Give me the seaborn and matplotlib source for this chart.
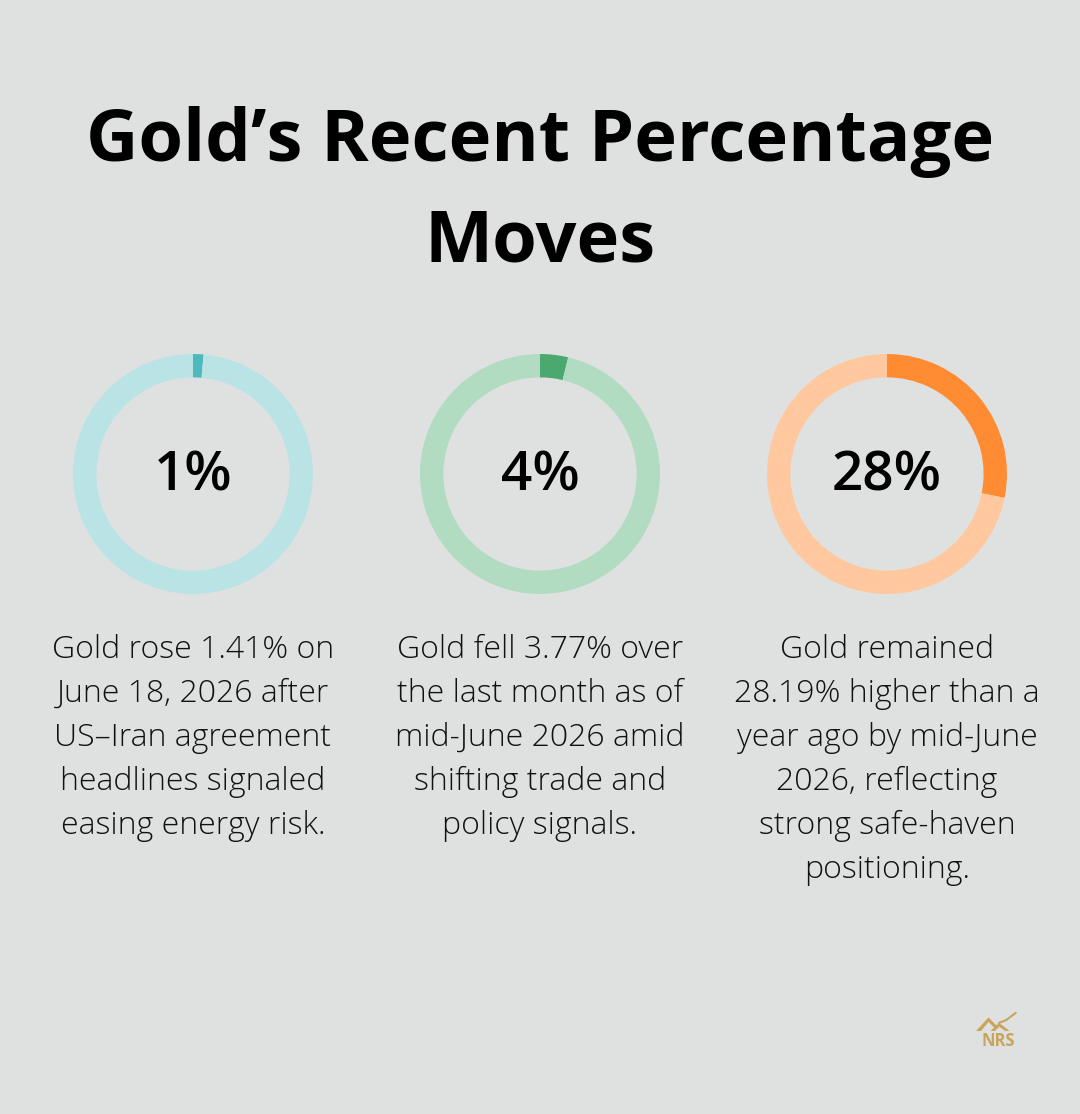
import matplotlib
matplotlib.use("Agg")
import matplotlib.pyplot as plt
import seaborn as sns
import numpy as np

# ---- data ----
labels = ["1%", "4%", "28%"]
values = [1.41, 3.77, 28.19]
captions = [
    "Gold rose 1.41% on\nJune 18, 2026 after\nUS\u2013Iran agreement\nheadlines signaled\neasing energy risk.",
    "Gold fell 3.77% over\nthe last month as of\nmid-June 2026 amid\nshifting trade and\npolicy signals.",
    "Gold remained\n28.19% higher than a\nyear ago by mid-June\n2026, reflecting\nstrong safe-haven\npositioning.",
]
dark_colors = ["#4DB9BC", "#4BA86F", "#FF8C33"]
light_colors = ["#BAE3E5", "#B1DCC2", "#FFC89F"]
title_lines = ["Gold\u2019s Recent Percentage", "Moves"]

BG = "#DFE1E0"
sns.set_theme(style="white")
plt.rcParams["font.family"] = ["Open Sans", "DejaVu Sans"]

W, H = 1080, 1114
fig = plt.figure(figsize=(W / 100, H / 100), dpi=100, facecolor=BG)

fig.text(0.5, 1 - 142 / H, title_lines[0], ha="center", va="center",
         fontsize=52, fontweight="bold", color="#000000")
fig.text(0.5, 1 - 242 / H, title_lines[1], ha="center", va="center",
         fontsize=52, fontweight="bold", color="#000000")

centers_x = [193, 540, 887]
cy = 474
R = 120
for i in range(3):
    cx = centers_x[i]
    ax = fig.add_axes([(cx - R) / W, (H - cy - R) / H, 2 * R / W, 2 * R / H])
    ax.set_facecolor(BG)
    ax.pie([values[i], 100 - values[i]], colors=[dark_colors[i], light_colors[i]],
           startangle=90, counterclock=False, radius=1.0,
           wedgeprops=dict(width=0.195, linewidth=0))
    ax.set_xlim(-1, 1)
    ax.set_ylim(-1, 1)
    ax.set_aspect("equal")
    ax.axis("off")
    fig.text(cx / W, 1 - 476 / H, labels[i], ha="center", va="center",
             fontsize=39.5, fontweight="semibold", color="#000000")
    fig.text(cx / W, 1 - 634 / H, captions[i], ha="center", va="top",
             fontsize=23, fontweight="light", color="#111111", linespacing=1.495)

# logo
gold = "#C9A45C"
fig.text(998 / W, 1 - 1041 / H, "NRS", ha="center", va="center", fontsize=12,
         fontweight="bold", color=gold)
lax = fig.add_axes([976 / W, (H - 1031) / H, 44 / W, 20 / H])
lax.fill([0.0, 0.3, 0.55, 0.45, 0.3, 0.12], [0.0, 0.75, 0.15, 0.15, 0.5, 0.0], color=gold, lw=0)
lax.fill([0.35, 0.55, 0.8, 0.7, 0.55, 0.45], [0.0, 0.45, 0.0, 0.0, 0.25, 0.0], color=gold, lw=0)
lax.plot([0.55, 0.72, 0.95], [0.45, 0.6, 1.0], color=gold, lw=1.5)
lax.set_xlim(0, 1.05)
lax.set_ylim(0, 1.1)
lax.axis("off")

fig.savefig("out.png", dpi=100, facecolor=BG)
